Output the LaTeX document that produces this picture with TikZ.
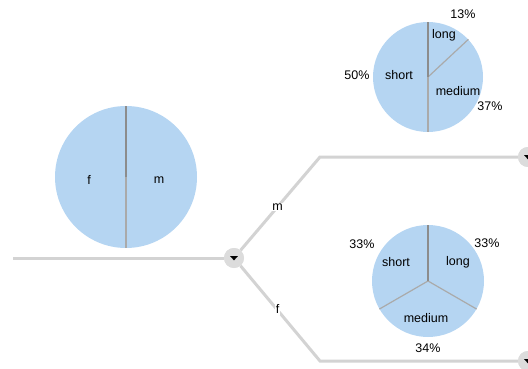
\documentclass[tikz,border=0pt]{standalone}
\usepackage{fontspec}
\setmainfont{Liberation Sans}
\usetikzlibrary{calc}
\definecolor{piefill}{RGB}{181,213,242}
\definecolor{edgegray}{RGB}{211,211,211}
\definecolor{knobgray}{RGB}{220,220,220}
\definecolor{sepdark}{RGB}{140,140,140}
\definecolor{seplight}{RGB}{170,170,170}
\tikzset{
  pie/.style={circle, fill=piefill, inner sep=0pt},
  edge/.style={draw=edgegray, line width=3pt},
  knob/.style={circle, fill=knobgray, inner sep=0pt, minimum size=20pt},
  septhick/.style={draw=sepdark, line width=2.6pt},
  septhin/.style={draw=seplight, line width=1.2pt},
  lbl/.style={font=\fontsize{12.5}{14}\selectfont, inner sep=0.5pt},
  elbl/.style={lbl, fill=white, inner sep=1pt},
}
\newcommand{\knobarrow}[1]{\fill ($(#1)+(-3.8,-1.8)$) -- ++(7.6,0) -- ++(-3.8,4.2) -- cycle;}
\begin{document}
\begin{tikzpicture}[x=1pt,y=-1pt]
\useasboundingbox (0,0) rectangle (528,369);
% edges
\coordinate (s0) at (13,258);
\node[knob] (n0) at (234,258) {};
\node[knob] (n1) at (528,157) {};
\node[knob] (n2) at (528,361) {};
\coordinate (k1) at (320,157);
\coordinate (k2) at (320,361);
\draw[edge] (s0) -- (n0);
\draw[edge] (n0) -- (k1) -- (n1);
\draw[edge] (n0) -- (k2) -- (n2);
\node[knob] at (n0) {};
\node[knob] at (n1) {};
\node[knob] at (n2) {};
\knobarrow{n0}
\knobarrow{n1}
\knobarrow{n2}
\node[elbl] (lm) at (277.5,207) {m};
\node[elbl] (lf) at (277.5,309) {f};
% left pie
\node[pie, minimum size=142pt] (p1) at (126,177) {};
\draw[septhin] (p1.center) -- (p1.south);
\draw[septhick] (p1.center) -- (p1.north);
\node[lbl] (p1f) at (89,180) {f};
\node[lbl] (p1m) at (159,180) {m};
% top pie
\node[pie, minimum size=110pt] (p2) at (428,77) {};
\draw[septhin] (p2.center) -- (p2.43.2);
\draw[septhin] (p2.center) -- (p2.south);
\draw[septhick] (p2.center) -- (p2.north);
\node[lbl] (p2l) at (444,35) {long};
\node[lbl] (p2m) at (458,91) {medium};
\node[lbl] (p2s) at (399,75) {short};
\node[lbl] (p2a) at (463,14) {13\%};
\node[lbl] (p2b) at (490,106) {37\%};
\node[lbl] (p2c) at (357,75) {50\%};
% bottom pie
\node[pie, minimum size=112pt] (p3) at (428,281) {};
\draw[septhin] (p3.center) -- (p3.-30);
\draw[septhin] (p3.center) -- (p3.-150);
\draw[septhick] (p3.center) -- (p3.north);
\node[lbl] (p3s) at (396,262) {short};
\node[lbl] (p3l) at (458,262) {long};
\node[lbl] (p3m) at (426,318) {medium};
\node[lbl] (p3a) at (362,244) {33\%};
\node[lbl] (p3b) at (487,243) {33\%};
\node[lbl] (p3c) at (428,348) {34\%};
\end{tikzpicture}
\end{document}
